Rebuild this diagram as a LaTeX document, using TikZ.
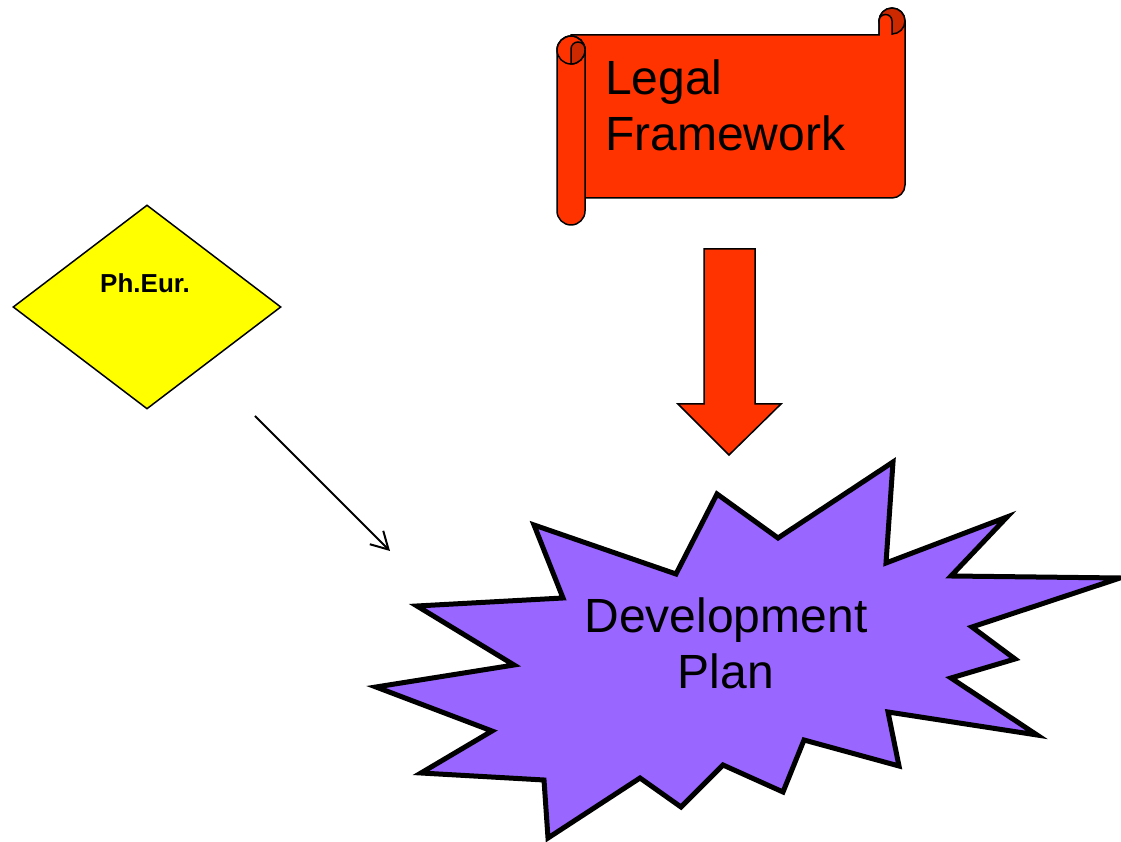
\documentclass[tikz,border=0pt]{standalone}
\usepackage{fontspec}
\setmainfont{Liberation Sans}
\usetikzlibrary{shapes.geometric,arrows.meta}
\definecolor{scrollred}{RGB}{255,51,0}
\definecolor{curlred}{RGB}{204,41,0}
\definecolor{burstpurple}{RGB}{153,102,255}
\definecolor{gemyellow}{RGB}{255,255,0}

\begin{document}
\begin{tikzpicture}[x=1pt,y=1pt,
burst/.style={
	% The border:
	line width=5pt, line join=miter, draw=black,
	% The filling:
	fill=burstpurple},
parchment/.style={
	% The border:
	line width=1.5pt, draw=black,
	% The filling:
	fill=scrollred},
gem/.style={
	% The shape:
	diamond, minimum width=268pt, minimum height=204pt, inner sep=0pt,
	% The border:
	line width=1.5pt, draw=black,
	% The filling:
	fill=gemyellow},
bigtext/.style={font=\fontsize{48}{56}\selectfont, inner sep=0pt}]

\useasboundingbox (0,0) rectangle (1121,842);

% scroll: body first, then the two rolls
\draw[parchment] (571,807) -- (879,807) -- (879,821) arc[start angle=180,end angle=0,radius=13]
	-- (905,657) arc[start angle=0,end angle=-90,radius=13] -- (571,644) -- cycle;
\draw[parchment, fill=curlred] (892,821) circle[radius=13];
\draw[parchment] (879,807) -- (879,821) arc[start angle=180,end angle=0,radius=6.5] -- (892,807);
\draw[parchment] (557,792) arc[start angle=180,end angle=0,radius=14]
	-- (585,631) arc[start angle=0,end angle=-180,radius=14] -- cycle;
\draw[line width=1.5pt] (571,792) circle[radius=14];
\draw[parchment, fill=curlred] (571,793) arc[start angle=180,end angle=0,radius=7]
	-- (585,792) arc[start angle=0,end angle=-90,radius=14] -- cycle;
\node (law) [bigtext, anchor=north west, align=left] at (605,782) {Legal\\Framework};

% block arrow
\draw[parchment, line join=miter] (704,593) -- (755,593) -- (755,438) -- (781,438)
	-- (729,387) -- (678,438) -- (704,438) -- cycle;

% burst
\draw[burst] (893,380) -- (886,279) -- (1007,325) -- (951,266) -- (1120,264) -- (972,215)
	-- (1015,183) -- (951,164) -- (1037,107) -- (888,130) -- (899,76) -- (804,102)
	-- (783,50) -- (723,77) -- (681,35) -- (640,64) -- (548,4) -- (544,62)
	-- (421,69) -- (492,111) -- (376,155) -- (514,177) -- (417,236) -- (563,244)
	-- (534,317) -- (676,268) -- (717,348) -- (778,304) -- cycle;
\node (plan) [bigtext, anchor=north, align=center] at (726,244) {Development\\Plan};

% Ph.Eur.
\node (eur) [gem] at (147,535) {};
\node (eurtxt) [font=\fontsize{26}{30}\selectfont\bfseries, inner sep=0pt, anchor=north] at (145,569) {Ph.Eur.};

\coordinate (eurout) at (255,426);
\coordinate (planin) at (390,291);
\draw[line width=2pt, -{Straight Barb[length=17pt,width=19pt]}] (eurout) -- (planin);

\end{tikzpicture}
\end{document}
